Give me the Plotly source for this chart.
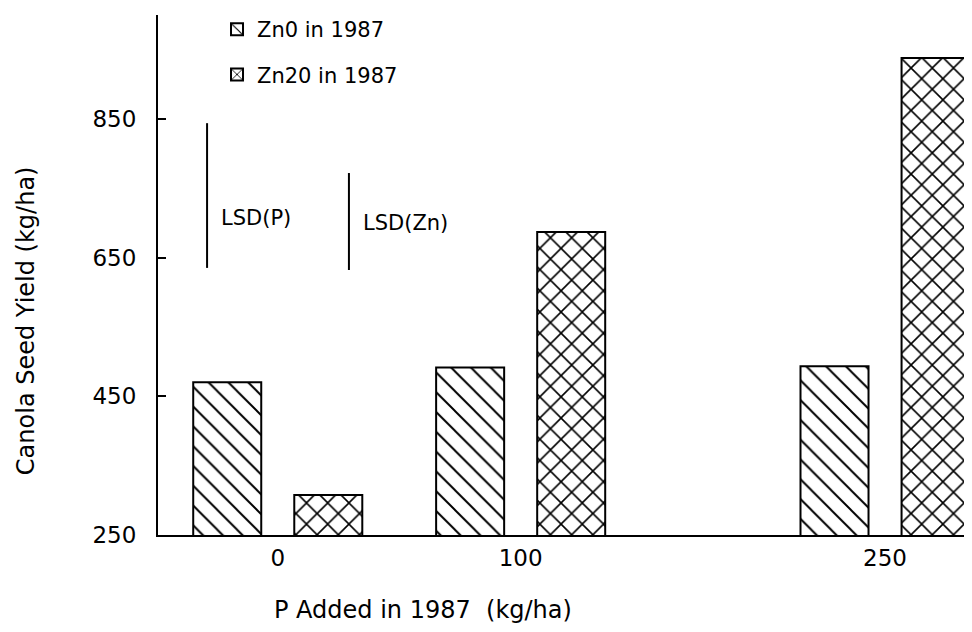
import plotly.graph_objects as go

# ---- data ----
p_levels = [0, 100, 250]
p_tick_labels = ["0", "100", "250"]
zn0_yield = [470, 491, 493]
zn20_yield = [307, 687, 938]
y_ticks = [250, 450, 650, 850]

lsd_names = ["LSD(P)", "LSD(Zn)"]
lsd_low = [635, 632]
lsd_high = [844, 772]
lsd_xpos = [-29.1, 29.3]
lsd_label_y = [707, 700]

FONT = "DejaVu Sans"

fig = go.Figure()

fig.add_trace(go.Bar(
    x=p_levels, y=zn0_yield, name="Zn0 in 1987",
    width=28, offset=-34.8, legendgroup="a",
    marker=dict(color="white",
                line=dict(color="black", width=2),
                pattern=dict(shape="\\", size=14, solidity=0.14, fgopacity=1,
                             fillmode="replace",
                             fgcolor="black", bgcolor="white")),
))
fig.add_trace(go.Bar(
    x=p_levels, y=zn20_yield, name="Zn20 in 1987",
    width=28, offset=6.8, legendgroup="b",
    marker=dict(color="white",
                line=dict(color="black", width=2),
                pattern=dict(shape="x", size=15, solidity=0.2, fgopacity=1,
                             fillmode="replace",
                             fgcolor="black", bgcolor="white")),
))

for name, lo, hi, xp, ly in zip(lsd_names, lsd_low, lsd_high, lsd_xpos, lsd_label_y):
    fig.add_trace(go.Scatter(
        x=[xp, xp], y=[lo, hi], mode="lines",
        line=dict(color="black", width=2), showlegend=False, hoverinfo="skip",
    ))
    fig.add_annotation(
        x=xp + 5, y=ly, xref="x", yref="y", text=name, showarrow=False,
        xanchor="left", yanchor="middle",
        font=dict(family=FONT, size=21, color="black"),
    )

fig.add_annotation(
    x=0.326, y=-0.144, xref="paper", yref="paper",
    text="P Added in 1987&nbsp;&nbsp;(kg/ha)", showarrow=False,
    xanchor="center", yanchor="middle",
    font=dict(family=FONT, size=24, color="black"),
)
fig.add_annotation(
    x=-0.162, y=0.4115, xref="paper", yref="paper",
    text="Canola Seed Yield (kg/ha)", showarrow=False, textangle=-90,
    xanchor="center", yanchor="middle",
    font=dict(family=FONT, size=24, color="black"),
)

fig.update_layout(
    width=964, height=616,
    margin=dict(l=150, r=0, t=7, b=89),
    paper_bgcolor="white", plot_bgcolor="white",
    barmode="overlay",
    showlegend=True,
    legend=dict(x=0.0725, y=1.0115, xanchor="left", yanchor="top",
                font=dict(family=FONT, size=21, color="black"),
                bgcolor="rgba(0,0,0,0)", tracegroupgap=15,
                itemsizing="constant"),
    font=dict(family=FONT, color="black"),
)
fig.update_xaxes(
    range=[-49.3, 285.8], tickvals=p_levels, ticktext=p_tick_labels,
    showgrid=False, zeroline=False, showline=True, linecolor="black",
    linewidth=2, ticks="", ticklabelstandoff=1,
    tickfont=dict(family=FONT, size=23, color="black"),
)
fig.update_yaxes(
    range=[249.3, 1000.2], tickvals=y_ticks,
    showgrid=False, zeroline=False, showline=True, linecolor="black",
    linewidth=2, ticks="inside", ticklen=8, tickwidth=1.5, tickcolor="black",
    ticklabelstandoff=15,
    tickfont=dict(family=FONT, size=23, color="black"),
)

fig.write_html("out.html")
